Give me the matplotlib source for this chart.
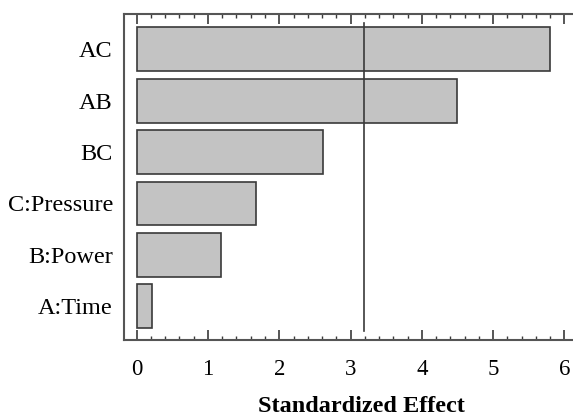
import matplotlib
matplotlib.use("Agg")
import matplotlib.pyplot as plt
from matplotlib.ticker import MultipleLocator

# Pareto chart of standardized effects
factors = ["A:Time", "B:Power", "C:Pressure", "BC", "AB", "AC"]
effects = [0.22, 1.18, 1.68, 2.62, 4.49, 5.80]
critical = 3.19

plt.rcParams['font.family'] = ['Liberation Serif', 'DejaVu Serif']

fig = plt.figure(figsize=(5.73, 4.18), dpi=100)
ax = fig.add_axes([124 / 573, 78 / 418, 449 / 573, 326 / 418])

ypos = list(range(len(factors)))
ax.barh(ypos, effects, height=0.85, color="#c3c3c3", edgecolor="#3a3a3a", linewidth=1.2)
ax.plot([critical, critical], [-0.48, 5.51], color="#3a3a3a", lw=1.2)

ax.set_xlim(-0.178, 6.12)
ax.set_ylim(-0.658, 5.687)
ax.set_yticks(ypos)
ax.set_yticklabels(factors, fontsize=17.5)
ax.tick_params(axis="y", length=0, pad=8)

ax.xaxis.set_major_locator(MultipleLocator(1))
ax.xaxis.set_minor_locator(MultipleLocator(0.2))
ax.tick_params(axis="x", which="both", direction="in", top=True, bottom=True,
               color="#3a3a3a", labelsize=16.5, pad=14)
ax.tick_params(axis="x", which="major", length=7, width=1.2)
ax.tick_params(axis="x", which="minor", length=3, width=1.0)

for side in ["left", "top", "bottom"]:
    ax.spines[side].set_color("#555555")
    ax.spines[side].set_linewidth(1.5)
ax.spines["right"].set_visible(False)

fig.text(361 / 573, 12 / 418, "Standardized Effect", ha="center", va="center",
         fontsize=17.5, fontweight="bold")

fig.savefig("out.png", dpi=100)
